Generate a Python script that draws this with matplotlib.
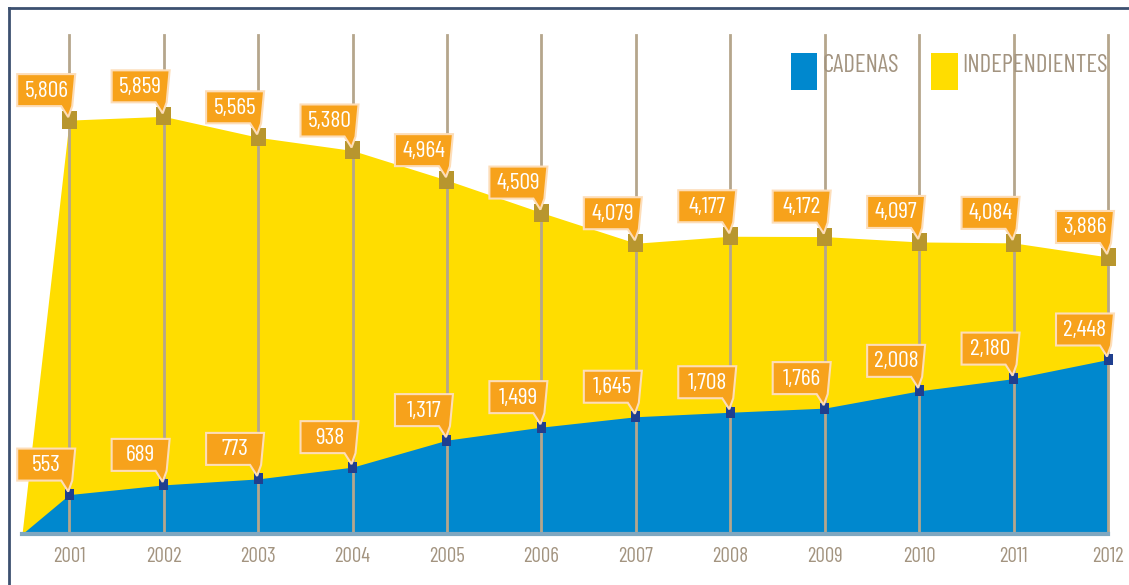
import matplotlib.pyplot as plt
import matplotlib.transforms as mtransforms
from matplotlib.patches import Polygon, Rectangle
from matplotlib.lines import Line2D

# Datos
years = [2001, 2002, 2003, 2004, 2005, 2006, 2007, 2008, 2009, 2010, 2011, 2012]
independientes = [5806, 5859, 5565, 5380, 4964, 4509, 4079, 4177, 4172, 4097, 4084, 3886]
cadenas = [553, 689, 773, 938, 1317, 1499, 1645, 1708, 1766, 2008, 2180, 2448]
start_year = 2000.5  # el área arranca desde cero medio año antes

# Colores
c_yellow = '#FFDD00'
c_blue = '#0088CE'
c_orange = '#F7A21B'
c_grid = '#B5A68C'
c_text = '#A39480'
narrow = ['Barlow Condensed', 'Archivo Narrow', 'DejaVu Sans']

fig = plt.figure(figsize=(11.29, 5.85), dpi=100)
ax = fig.add_axes([22 / 1129, 1 - 534 / 585, (1108 - 22) / 1129, (534 - 35) / 585])

xs = [start_year] + years
ax.fill_between(xs, 0, [0] + independientes, color=c_yellow, lw=0, zorder=1)
ax.fill_between(xs, 0, [0] + cadenas, color=c_blue, lw=0, zorder=2)

ax.set_xlim(start_year, years[-1])
ax.set_ylim(0, 7000)

# líneas verticales por año
for yr in years:
    ax.axvline(yr, color=c_grid, lw=2, zorder=3, clip_on=False)

ax.set_xticks(years)
ax.set_xticklabels([str(y) for y in years], family=narrow, fontsize=15, color=c_text)
ax.tick_params(axis='x', length=0, pad=9)
ax.set_yticks([])
for side in ['left', 'right', 'top']:
    ax.spines[side].set_visible(False)
ax.spines['bottom'].set_color('#7FA7C0')
ax.spines['bottom'].set_linewidth(3)
ax.spines['bottom'].set_zorder(4)


def px_trans(x, y):
    # transformación en píxeles centrada en el punto (x, y)
    return mtransforms.Affine2D() + mtransforms.ScaledTranslation(x, y, ax.transData)


flag = [(-52, 14), (-8, 14), (-1, 3), (3, 14), (6, 46), (-52, 46)]


def etiqueta(x, y, valor, marker_color, mw, mh):
    t = px_trans(x, y)
    ax.add_patch(Rectangle((-mw / 2, -mh / 2), mw, mh, transform=t,
                           facecolor=marker_color, lw=0, zorder=5, clip_on=False))
    ax.add_patch(Polygon(flag, closed=True, transform=t, facecolor=c_orange,
                         edgecolor='#FDDDB8', lw=1.5, zorder=6, clip_on=False))
    ax.text(-23, 29, f'{valor:,}', transform=t, ha='center', va='center',
            color='white', fontsize=17, family=narrow, zorder=7)


for yr, v in zip(years, independientes):
    etiqueta(yr, v, v, '#B8962E', 15, 18)
for yr, v in zip(years, cadenas):
    etiqueta(yr, v, v, '#1F3F8F', 9, 11)

# leyenda
fig.add_artist(Rectangle((791 / 1129, 1 - 90 / 585), 26 / 1129, 37 / 585,
                         transform=fig.transFigure, facecolor=c_blue, lw=0, zorder=8))
fig.text(823 / 1129, 1 - 66 / 585, 'CADENAS', family=narrow, fontsize=18,
         color=c_text, va='center', ha='left', zorder=9)
fig.add_artist(Rectangle((931 / 1129, 1 - 90 / 585), 27 / 1129, 37 / 585,
                         transform=fig.transFigure, facecolor=c_yellow, lw=0, zorder=8))
fig.text(962 / 1129, 1 - 66 / 585, 'INDEPENDIENTES', family=narrow, fontsize=18,
         color=c_text, va='center', ha='left', zorder=9)

# marco
fig.add_artist(Line2D([8.5 / 1129, 8.5 / 1129], [0, 1 - 8 / 585], color='#3C5070', lw=2))
fig.add_artist(Line2D([8.5 / 1129, 1], [1 - 8 / 585, 1 - 8 / 585], color='#3C5070', lw=2))

fig.savefig('out.png', dpi=100)
